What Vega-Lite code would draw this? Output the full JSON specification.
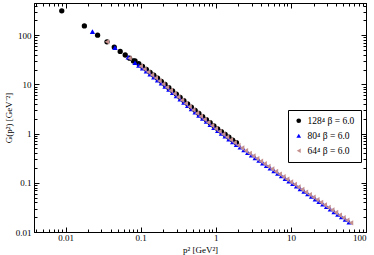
{
  "$schema": "https://vega.github.io/schema/vega-lite/v6.json",
  "width": 332,
  "height": 229,
  "autosize": "none",
  "padding": {"left": 34, "top": 3, "right": 8, "bottom": 23},
  "background": "white",
  "config": {
    "view": {"stroke": "black", "strokeWidth": 1},
    "axis": {"grid": false, "domainColor": "black", "tickColor": "black", "labelColor": "black", "titleColor": "black", "labelFont": "Liberation Serif", "titleFont": "Liberation Serif", "labelFontSize": 9, "titleFontSize": 9, "titleFontWeight": "normal", "domainWidth": 1, "tickWidth": 1}
  },
  "data": {"values": [
    {"s":"a","p":0.0089,"g":311.6},{"s":"a","p":0.0178,"g":153.7},{"s":"a","p":0.0267,"g":99.7},{"s":"a","p":0.0356,"g":73.0},{"s":"a","p":0.0445,"g":57.1},{"s":"a","p":0.0534,"g":46.8},{"s":"a","p":0.0623,"g":39.5},{"s":"a","p":0.0712,"g":34.06},{"s":"a","p":0.0801,"g":29.92},
    {"s":"a","p":0.0841,"g":30.05},{"s":"a","p":0.0944,"g":26.48},{"s":"a","p":0.1059,"g":23.19},{"s":"a","p":0.1189,"g":20.19},{"s":"a","p":0.1334,"g":17.6},{"s":"a","p":0.1496,"g":15.32},{"s":"a","p":0.1679,"g":13.35},{"s":"a","p":0.1884,"g":11.55},{"s":"a","p":0.2113,"g":9.949},{"s":"a","p":0.2371,"g":8.565},{"s":"a","p":0.2661,"g":7.375},{"s":"a","p":0.2985,"g":6.352},{"s":"a","p":0.335,"g":5.461},{"s":"a","p":0.3758,"g":4.692},{"s":"a","p":0.4217,"g":4.03},{"s":"a","p":0.4732,"g":3.462},{"s":"a","p":0.5309,"g":2.973},{"s":"a","p":0.5957,"g":2.563},{"s":"a","p":0.6683,"g":2.218},{"s":"a","p":0.7499,"g":1.918},{"s":"a","p":0.8414,"g":1.659},{"s":"a","p":0.9441,"g":1.435},{"s":"a","p":1.0593,"g":1.25},{"s":"a","p":1.1885,"g":1.096},{"s":"a","p":1.3335,"g":0.961},{"s":"a","p":1.4962,"g":0.843},{"s":"a","p":1.6788,"g":0.739},{"s":"a","p":1.8836,"g":0.651},
    {"s":"b","p":0.0228,"g":117.9},{"s":"b","p":0.0455,"g":55.74},{"s":"b","p":0.0683,"g":35.67},
    {"s":"b","p":0.0841,"g":27.5},{"s":"b","p":0.0944,"g":24.23},{"s":"b","p":0.1059,"g":21.22},{"s":"b","p":0.1189,"g":18.48},{"s":"b","p":0.1334,"g":16.1},{"s":"b","p":0.1496,"g":14.02},{"s":"b","p":0.1679,"g":12.21},{"s":"b","p":0.1884,"g":10.57},{"s":"b","p":0.2113,"g":9.104},{"s":"b","p":0.2371,"g":7.838},{"s":"b","p":0.2661,"g":6.749},{"s":"b","p":0.2985,"g":5.812},{"s":"b","p":0.335,"g":4.997},{"s":"b","p":0.3758,"g":4.293},{"s":"b","p":0.4217,"g":3.688},{"s":"b","p":0.4732,"g":3.168},{"s":"b","p":0.5309,"g":2.721},{"s":"b","p":0.5957,"g":2.345},{"s":"b","p":0.6683,"g":2.029},{"s":"b","p":0.7499,"g":1.755},{"s":"b","p":0.8414,"g":1.518},{"s":"b","p":0.9441,"g":1.313},{"s":"b","p":1.0593,"g":1.144},{"s":"b","p":1.1885,"g":1.003},{"s":"b","p":1.3335,"g":0.8795},{"s":"b","p":1.4962,"g":0.7716},{"s":"b","p":1.6788,"g":0.6764},{"s":"b","p":1.8836,"g":0.5954},{"s":"b","p":2.1135,"g":0.5257},{"s":"b","p":2.3714,"g":0.4642},{"s":"b","p":2.6607,"g":0.41},{"s":"b","p":2.9854,"g":0.3621},{"s":"b","p":3.3497,"g":0.3202},{"s":"b","p":3.7584,"g":0.2836},{"s":"b","p":4.217,"g":0.2513},{"s":"b","p":4.7315,"g":0.2227},{"s":"b","p":5.3088,"g":0.1973},{"s":"b","p":5.9566,"g":0.1748},{"s":"b","p":6.6834,"g":0.1549},{"s":"b","p":7.4989,"g":0.1374},{"s":"b","p":8.414,"g":0.1217},{"s":"b","p":9.4406,"g":0.1079},{"s":"b","p":10.593,"g":0.09567},{"s":"b","p":11.885,"g":0.08488},{"s":"b","p":13.335,"g":0.07529},{"s":"b","p":14.962,"g":0.0668},{"s":"b","p":16.788,"g":0.05926},{"s":"b","p":18.836,"g":0.05257},{"s":"b","p":21.135,"g":0.04664},{"s":"b","p":23.714,"g":0.04138},{"s":"b","p":26.607,"g":0.0367},{"s":"b","p":29.854,"g":0.03256},{"s":"b","p":33.497,"g":0.02889},{"s":"b","p":37.584,"g":0.02563},{"s":"b","p":42.17,"g":0.02274},{"s":"b","p":47.315,"g":0.02017},{"s":"b","p":53.088,"g":0.01789},{"s":"b","p":59.566,"g":0.01586},
    {"s":"c","p":0.0356,"g":73.0},{"s":"c","p":0.0711,"g":34.06},
    {"s":"c","p":0.1,"g":23.44},{"s":"c","p":0.1122,"g":20.42},{"s":"c","p":0.1259,"g":17.78},{"s":"c","p":0.1413,"g":15.49},{"s":"c","p":0.1585,"g":13.49},{"s":"c","p":0.1778,"g":11.75},{"s":"c","p":0.1995,"g":10.12},{"s":"c","p":0.2239,"g":8.71},{"s":"c","p":0.2512,"g":7.499},{"s":"c","p":0.2818,"g":6.457},{"s":"c","p":0.3162,"g":5.559},{"s":"c","p":0.3548,"g":4.775},{"s":"c","p":0.3981,"g":4.102},{"s":"c","p":0.4467,"g":3.524},{"s":"c","p":0.5012,"g":3.027},{"s":"c","p":0.5623,"g":2.6},{"s":"c","p":0.631,"g":2.249},{"s":"c","p":0.7079,"g":1.945},{"s":"c","p":0.7943,"g":1.683},{"s":"c","p":0.8913,"g":1.455},{"s":"c","p":1.0,"g":1.259},{"s":"c","p":1.122,"g":1.104},{"s":"c","p":1.2589,"g":0.9683},{"s":"c","p":1.4125,"g":0.8492},{"s":"c","p":1.5849,"g":0.7447},{"s":"c","p":1.7783,"g":0.6531},{"s":"c","p":1.9953,"g":0.5768},{"s":"c","p":2.2387,"g":0.5093},{"s":"c","p":2.5119,"g":0.4498},{"s":"c","p":2.8184,"g":0.3972},{"s":"c","p":3.1623,"g":0.3508},{"s":"c","p":3.5481,"g":0.3107},{"s":"c","p":3.9811,"g":0.2753},{"s":"c","p":4.4668,"g":0.2439},{"s":"c","p":5.0119,"g":0.2161},{"s":"c","p":5.6234,"g":0.1914},{"s":"c","p":6.3096,"g":0.1697},{"s":"c","p":7.0795,"g":0.1504},{"s":"c","p":7.9433,"g":0.1333},{"s":"c","p":8.9125,"g":0.1181},{"s":"c","p":10.0,"g":0.1047},{"s":"c","p":11.22,"g":0.0929},{"s":"c","p":12.589,"g":0.08241},{"s":"c","p":14.125,"g":0.07311},{"s":"c","p":15.849,"g":0.06486},{"s":"c","p":17.783,"g":0.05754},{"s":"c","p":19.953,"g":0.05105},{"s":"c","p":22.387,"g":0.04529},{"s":"c","p":25.119,"g":0.04018},{"s":"c","p":28.184,"g":0.03565},{"s":"c","p":31.623,"g":0.03162},{"s":"c","p":35.481,"g":0.02805},{"s":"c","p":39.811,"g":0.02488},{"s":"c","p":44.668,"g":0.02207},{"s":"c","p":50.119,"g":0.01958},{"s":"c","p":56.234,"g":0.01737},{"s":"c","p":63.096,"g":0.0154}
  ]},
  "layer": [
    {
      "mark": {"type": "point", "filled": true, "opacity": 1, "size": 28},
      "encoding": {
        "x": {"field": "p", "type": "quantitative", "scale": {"type": "log", "domain": [0.0038, 100]},
          "axis": {"orient": "bottom", "title": "p² [GeV²]", "titleY": 17, "titleBaseline": "middle", "labelPadding": 6,
            "values": [0.004,0.005,0.006,0.007,0.008,0.009,0.01,0.02,0.03,0.04,0.05,0.06,0.07,0.08,0.09,0.1,0.2,0.3,0.4,0.5,0.6,0.7,0.8,0.9,1,2,3,4,5,6,7,8,9,10,20,30,40,50,60,70,80,90,100],
            "format": "~g",
            "labelExpr": "indexof([0.01,0.1,1,10,100], datum.value) >= 0 ? datum.label : ''",
            "tickSize": {"condition": {"test": "indexof([0.01,0.1,1,10,100], datum.value) >= 0", "value": -5}, "value": -3}}},
        "y": {"field": "g", "type": "quantitative", "scale": {"type": "log", "domain": [0.01, 450]},
          "axis": {"orient": "left", "title": "G(p²)  [GeV⁻²]", "titlePadding": 2, "labelPadding": 8,
            "values": [0.01,0.02,0.03,0.04,0.05,0.06,0.07,0.08,0.09,0.1,0.2,0.3,0.4,0.5,0.6,0.7,0.8,0.9,1,2,3,4,5,6,7,8,9,10,20,30,40,50,60,70,80,90,100,200,300,400],
            "format": "~g",
            "labelExpr": "indexof([0.01,0.1,1,10,100], datum.value) >= 0 ? datum.label : ''",
            "tickSize": {"condition": {"test": "indexof([0.01,0.1,1,10,100], datum.value) >= 0", "value": -5}, "value": -3}}},
        "color": {"field": "s", "type": "nominal", "scale": {"domain": ["a","b","c"], "range": ["#000000","#0000ff","#c4918f"]},
          "legend": {"orient": "none", "legendX": 254, "legendY": 107, "title": null, "strokeColor": "black", "fillColor": "white", "padding": 6, "rowPadding": 4, "symbolSize": 22, "labelFont": "Liberation Serif", "labelFontSize": 9.5, "labelColor": "black", "symbolStrokeWidth": 0,
            "labelExpr": "datum.value == 'a' ? '128⁴ β = 6.0' : datum.value == 'b' ? '\u200780⁴ β = 6.0' : '\u200764⁴ β = 6.0'"}},
        "shape": {"field": "s", "type": "nominal", "scale": {"domain": ["a","b","c"], "range": ["circle","triangle-up","triangle-left"]}, "legend": null}
      }
    },
    {
      "mark": {"type": "point", "opacity": 0},
      "encoding": {
        "x": {"field": "p", "type": "quantitative", "scale": {"type": "log", "domain": [0.0038, 100]},
          "axis": {"orient": "top", "title": null, "labels": false,
            "values": [0.004,0.005,0.006,0.007,0.008,0.009,0.01,0.02,0.03,0.04,0.05,0.06,0.07,0.08,0.09,0.1,0.2,0.3,0.4,0.5,0.6,0.7,0.8,0.9,1,2,3,4,5,6,7,8,9,10,20,30,40,50,60,70,80,90,100],
            "tickSize": {"condition": {"test": "indexof([0.01,0.1,1,10,100], datum.value) >= 0", "value": -5}, "value": -3}}},
        "y": {"field": "g", "type": "quantitative", "scale": {"type": "log", "domain": [0.01, 450]},
          "axis": {"orient": "right", "title": null, "labels": false,
            "values": [0.01,0.02,0.03,0.04,0.05,0.06,0.07,0.08,0.09,0.1,0.2,0.3,0.4,0.5,0.6,0.7,0.8,0.9,1,2,3,4,5,6,7,8,9,10,20,30,40,50,60,70,80,90,100,200,300,400],
            "tickSize": {"condition": {"test": "indexof([0.01,0.1,1,10,100], datum.value) >= 0", "value": -5}, "value": -3}}}
      }
    }
  ],
  "resolve": {"axis": {"x": "independent", "y": "independent"}}
}
